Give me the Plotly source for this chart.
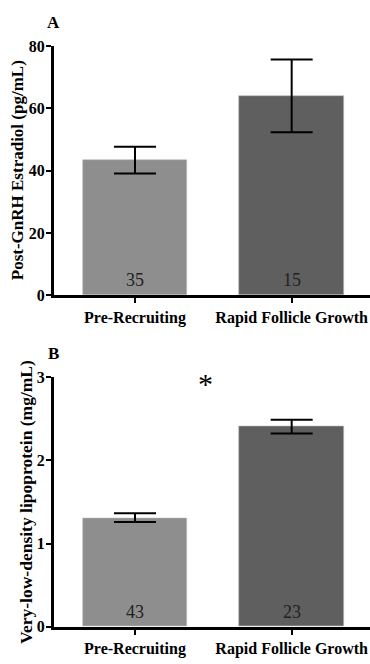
import plotly.graph_objects as go

categories = ["Pre-Recruiting", "Rapid Follicle Growth"]
estradiol_mean = [43.5, 64.0]
estradiol_err_plus = [4.2, 11.7]
estradiol_err_minus = [4.4, 11.7]
estradiol_n = ["35", "15"]
vldl_mean = [1.31, 2.41]
vldl_err_plus = [0.055, 0.08]
vldl_err_minus = [0.05, 0.085]
vldl_n = ["43", "23"]
bar_colors = ["#8e8e8e", "#5f5f5f"]

W, H = 370, 664
FONT = "Times New Roman, Liberation Serif, DejaVu Serif, serif"
xpos = [0, 1]

fig = go.Figure()

def px_y(p):
    return 1 - p / H

domA = [px_y(295), px_y(39)]
domB = [px_y(635), px_y(379)]
xdom = [54 / W, 1.0]

fig.add_trace(go.Bar(
    x=xpos, y=estradiol_mean, width=0.668,
    marker=dict(color=bar_colors, line=dict(color="#bdbdbd", width=0.6)),
    error_y=dict(type="data", array=estradiol_err_plus, arrayminus=estradiol_err_minus,
                 color="black", thickness=2, width=21, symmetric=False),
    xaxis="x", yaxis="y", showlegend=False, hoverinfo="skip"))
fig.add_trace(go.Bar(
    x=xpos, y=vldl_mean, width=0.668,
    marker=dict(color=bar_colors, line=dict(color="#bdbdbd", width=0.6)),
    error_y=dict(type="data", array=vldl_err_plus, arrayminus=vldl_err_minus,
                 color="black", thickness=2, width=21, symmetric=False),
    xaxis="x2", yaxis="y2", showlegend=False, hoverinfo="skip"))

xcommon = dict(range=[-0.517, 1.5], tickvals=xpos, ticktext=categories,
               showline=True, linecolor="black", linewidth=3,
               ticks="outside", ticklen=5, tickwidth=2, tickcolor="black",
               tickfont=dict(family=FONT, size=16, color="black", weight="bold"),
               showgrid=False, zeroline=False, fixedrange=True)
ycommon = dict(showline=True, linecolor="black", linewidth=3,
               ticks="outside", ticklen=5, tickwidth=2, tickcolor="black",
               ticklabelstandoff=-2,
               tickfont=dict(family=FONT, size=16, color="black", weight="bold"),
               showgrid=False, zeroline=False, fixedrange=True)

fig.update_layout(
    width=W, height=H,
    margin=dict(l=0, r=0, t=0, b=0),
    paper_bgcolor="white", plot_bgcolor="white",
    bargap=0,
    xaxis=dict(domain=xdom, anchor="y", **xcommon),
    yaxis=dict(domain=domA, anchor="x", range=[0, 80], tickvals=[0, 20, 40, 60, 80], **ycommon),
    xaxis2=dict(domain=xdom, anchor="y2", **xcommon),
    yaxis2=dict(domain=domB, anchor="x2", range=[0, 3], tickvals=[0, 1, 2, 3], **ycommon),
)

anns = []
for i, n in enumerate(estradiol_n):
    anns.append(dict(x=xpos[i], y=0, xref="x", yref="y", text=n, showarrow=False,
                     yanchor="bottom", yshift=3,
                     font=dict(family=FONT, size=18, color="#222222")))
for i, n in enumerate(vldl_n):
    anns.append(dict(x=xpos[i], y=0, xref="x2", yref="y2", text=n, showarrow=False,
                     yanchor="bottom", yshift=3,
                     font=dict(family=FONT, size=18, color="#222222")))
anns.append(dict(x=53.5 / W, y=px_y(15), xref="paper", yref="paper", text="A", showarrow=False,
                 xanchor="center", yanchor="middle",
                 font=dict(family=FONT, size=17, color="black", weight="bold")))
anns.append(dict(x=53.5 / W, y=px_y(355), xref="paper", yref="paper", text="B", showarrow=False,
                 xanchor="center", yanchor="middle",
                 font=dict(family=FONT, size=17, color="black", weight="bold")))
anns.append(dict(x=17.5 / W, y=sum(domA) / 2, xref="paper", yref="paper",
                 text="Post-GnRH Estradiol (pg/mL)", textangle=-90, showarrow=False,
                 xanchor="center", yanchor="middle",
                 font=dict(family=FONT, size=17, color="black", weight="bold")))
anns.append(dict(x=26 / W, y=sum(domB) / 2, xref="paper", yref="paper",
                 text="Very-low-density lipoprotein (mg/mL)", textangle=-90, showarrow=False,
                 xanchor="center", yanchor="middle",
                 font=dict(family=FONT, size=17.5, color="black", weight="bold")))
anns.append(dict(x=0.447, y=2.93, xref="x2", yref="y2", text="*", showarrow=False,
                 xanchor="center", yanchor="middle",
                 font=dict(family=FONT, size=30, color="black")))
fig.update_layout(annotations=anns)

fig.write_html("out.html")
